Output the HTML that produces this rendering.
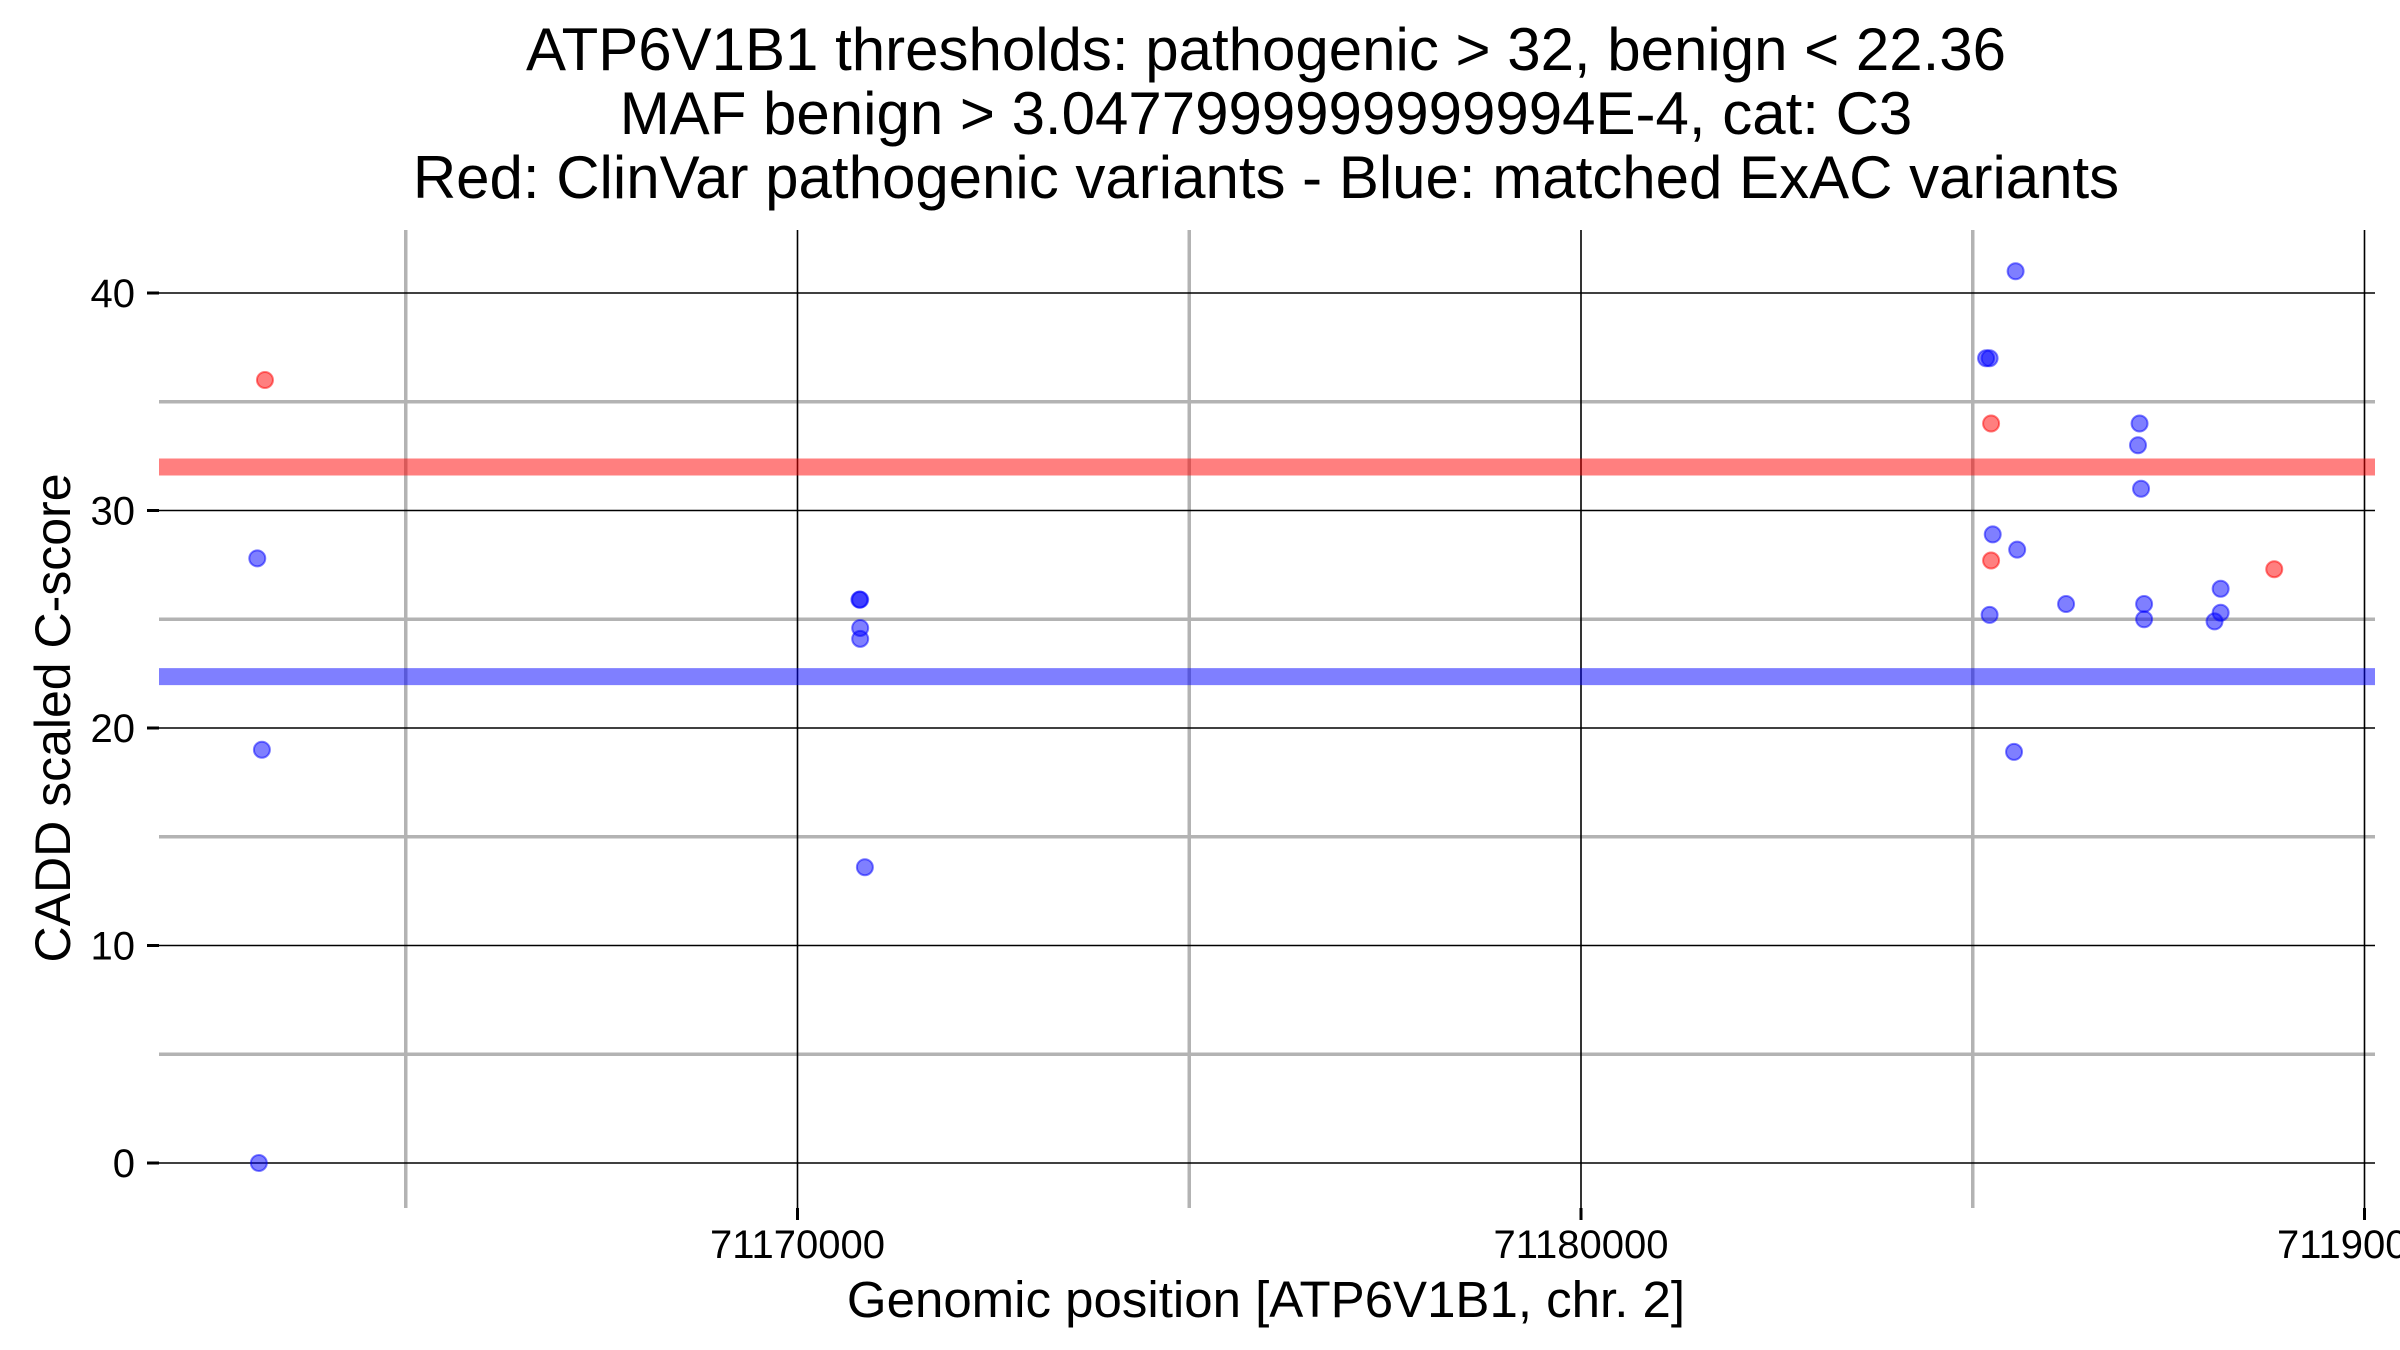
<!DOCTYPE html>
<html><head><meta charset="utf-8"><style>
html,body{margin:0;padding:0;background:#fff;}
svg{display:block;font-family:"Liberation Sans",Arial,sans-serif;}
</style></head><body>
<svg id="chart" width="2400" height="1350" viewBox="0 0 2400 1350" xmlns="http://www.w3.org/2000/svg">
<g font-size="60" text-anchor="middle" fill="#000">
<text x="1266" y="70">ATP6V1B1 thresholds: pathogenic &gt; 32, benign &lt; 22.36</text>
<text x="1266" y="134">MAF benign &gt; 3.0477999999999994E-4, cat: C3</text>
<text x="1266" y="198">Red: ClinVar pathogenic variants - Blue: matched ExAC variants</text>
</g>
<g id="grid"></g>
<g id="thresholds"></g>
<g id="points"></g>
<g id="axes"></g>
<text x="1266" y="1317" font-size="51" text-anchor="middle">Genomic position [ATP6V1B1, chr. 2]</text>
<text transform="translate(70,718) rotate(-90)" font-size="50" text-anchor="middle">CADD scaled C-score</text>
</svg>
<script>
const xMajorTicks = [71170000, 71180000, 71190000];
const xMajorLabels = ["71170000", "71180000", "71190000"];
const xMinorTicks = [71165000, 71175000, 71185000];
const yMajorTicks = [0, 10, 20, 30, 40];
const yMajorLabels = ["0", "10", "20", "30", "40"];
const yMinorTicks = [5, 15, 25, 35];
const pathogenicThreshold = 32;
const benignThreshold = 22.36;
const clinvarX = [71163203, 71185234, 71185234, 71188848];
const clinvarY = [36.0, 34.0, 27.7, 27.3];
const exacX = [71163105, 71163164, 71163125, 71170800, 71170790, 71170800, 71170800, 71170860,
  71185547, 71185170, 71185215, 71185255, 71185215, 71185567, 71185527, 71186191,
  71187129, 71187109, 71187148, 71187187, 71187187, 71188086, 71188164, 71188164];
const exacY = [27.8, 19.0, 0, 25.9, 25.9, 24.6, 24.1, 13.6,
  41, 37, 37, 28.9, 25.2, 28.2, 18.9, 25.7,
  34, 33, 31, 25.7, 25.0, 24.9, 26.4, 25.3];

const NS = "http://www.w3.org/2000/svg";
const PL = 159, PR = 2375, PT = 230, PB = 1208;
function xs(v){ return 797.5 + (v - 71170000) * 0.07835; }
function ys(v){ return 1163 - v * 21.75; }
function mk(tag, attrs, parent){
  const e = document.createElementNS(NS, tag);
  for (const k in attrs) e.setAttribute(k, attrs[k]);
  parent.appendChild(e); return e;
}
const grid = document.getElementById('grid');
const axes = document.getElementById('axes');
yMinorTicks.forEach(v => {
  const l = mk('line', {x1:PL, x2:PR, y1:ys(v), y2:ys(v), stroke:'#b3b3b3', 'stroke-width':3.5}, grid);
  
  
});
xMinorTicks.forEach(v => {
  const l = mk('line', {x1:xs(v), x2:xs(v), y1:PT, y2:PB, stroke:'#b3b3b3', 'stroke-width':3.5}, grid);
  
  
});
yMajorTicks.forEach((v, i) => {
  const l = mk('line', {x1:PL, x2:PR, y1:ys(v), y2:ys(v), stroke:'#000', 'stroke-width':1.6}, grid);
  
  
  const t = mk('line', {x1:147, x2:PL, y1:ys(v), y2:ys(v), stroke:'#000', 'stroke-width':3}, axes);
  
  
  const tx = mk('text', {x:135, y:ys(v)+14, 'font-size':40, 'text-anchor':'end'}, axes);
  tx.textContent = yMajorLabels[i];
  
  
});
xMajorTicks.forEach((v, i) => {
  const l = mk('line', {x1:xs(v), x2:xs(v), y1:PT, y2:PB, stroke:'#000', 'stroke-width':1.6}, grid);
  
  
  const t = mk('line', {x1:xs(v), x2:xs(v), y1:PB, y2:PB+12, stroke:'#000', 'stroke-width':3}, axes);
  
  
  const tx = mk('text', {x:xs(v), y:1258, 'font-size':40, 'text-anchor':'middle'}, axes);
  tx.textContent = xMajorLabels[i];
  
  
});
const th = document.getElementById('thresholds');
const r1 = mk('line', {x1:PL, x2:PR, y1:ys(pathogenicThreshold), y2:ys(pathogenicThreshold), stroke:'rgba(255,0,0,0.5)', 'stroke-width':17}, th);


const r2 = mk('line', {x1:PL, x2:PR, y1:ys(benignThreshold), y2:ys(benignThreshold), stroke:'rgba(0,0,255,0.5)', 'stroke-width':17}, th);


const pts = document.getElementById('points');
exacX.forEach((x, i) => {
  const c = mk('circle', {cx:xs(x), cy:ys(exacY[i]), r:8, fill:'rgba(0,0,255,0.5)', stroke:'rgba(0,0,255,0.5)', 'stroke-width':2}, pts);
  
  
});
clinvarX.forEach((x, i) => {
  const c = mk('circle', {cx:xs(x), cy:ys(clinvarY[i]), r:8, fill:'rgba(255,0,0,0.5)', stroke:'rgba(255,0,0,0.5)', 'stroke-width':2}, pts);
  
  
});
</script>
</body></html>
